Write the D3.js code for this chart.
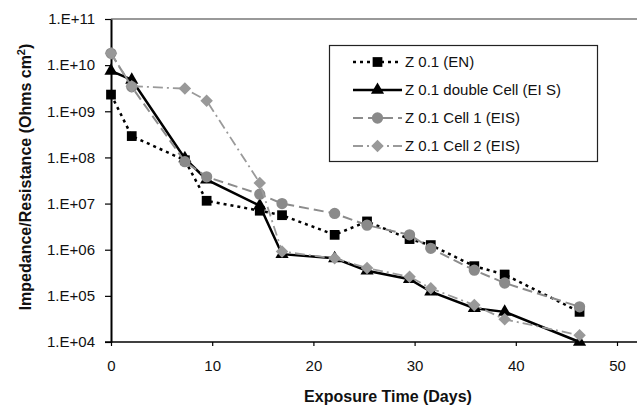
<!DOCTYPE html>
<html>
<head>
<meta charset="utf-8">
<script src="https://cdn.jsdelivr.net/npm/d3@7/dist/d3.min.js"></script>
<style>
    body { margin: 0; background: #fff; }
    svg { display: block; font-family: "Liberation Sans", Arial, sans-serif; }
</style>
</head>
<body>
<div id="chart"></div>
<script>
// 数据：曝露时间（天）和各系列的阻抗值
let days = [0, 2.05, 7.3, 9.45, 14.7, 16.9, 22.1, 25.3, 29.5, 31.6, 35.9, 38.9, 46.3];
let zEN = [2.3e9, 2.9e8, 8.7e7, 1.15e7, 7.0e6, 5.6e6, 2.1e6, 4.1e6, 1.7e6, 1.26e6, 4.4e5, 2.9e5, 4.5e4];
let zDouble = [7.5e9, 4.8e9, 9.5e7, 3.3e7, 9.0e6, 8.0e5, 6.5e5, 3.5e5, 2.3e5, 1.23e5, 5.4e4, 4.5e4, 1.0e4];
let zCell1 = [1.8e10, 3.4e9, 8.1e7, 3.8e7, 1.6e7, 1.0e7, 6.1e6, 3.4e6, 2.1e6, 1.07e6, 3.6e5, 1.9e5, 5.8e4];
let zCell2 = [1.8e10, 3.5e9, 3.1e9, 1.7e9, 2.8e7, 9.1e5, 6.5e5, 4.0e5, 2.6e5, 1.46e5, 6.3e4, 3.1e4, 1.4e4];
let seriesNames = ['Z 0.1 (EN)', 'Z 0.1 double Cell (EI S)', 'Z 0.1 Cell 1 (EIS)', 'Z 0.1 Cell 2 (EIS)'];
let xTicks = [0, 10, 20, 30, 40, 50];
let yTicks = [1e4, 1e5, 1e6, 1e7, 1e8, 1e9, 1e10, 1e11];
let yTickLabels = ['1.E+04', '1.E+05', '1.E+06', '1.E+07', '1.E+08', '1.E+09', '1.E+10', '1.E+11'];

let W = 637, H = 405;
let pLeft = 111, pTop = 19, pBottom = 342;

let svg = d3.select('#chart').append('svg')
    .attr('width', W)
    .attr('height', H);

// 比例尺：x 线性，y 对数
let x = d3.scaleLinear().domain([0, 50]).range([pLeft, 617]);
let y = d3.scaleLog().domain([1e4, 1e11]).range([pBottom, pTop]);

// 各系列的样式
let styles = [
    {values: zEN, color: '#000', width: 2.5, dash: '3,4', marker: 'square', fill: '#000'},
    {values: zDouble, color: '#000', width: 2.5, dash: null, marker: 'triangle', fill: '#000'},
    {values: zCell1, color: '#8c8c8c', width: 2, dash: '10,5', marker: 'circle', fill: '#8a8a8a'},
    {values: zCell2, color: '#9a9a9a', width: 1.8, dash: '10,4,2,4', marker: 'diamond', fill: '#999'}
];
let symbolTypes = {
    square: d3.symbolSquare,
    triangle: d3.symbolTriangle,
    circle: d3.symbolCircle,
    diamond: d3.symbolDiamond2 || d3.symbolDiamond
};
let symbolSizes = {square: 95, triangle: 75, circle: 100, diamond: 100};

// 上边框（灰色）
svg.append('line')
    .attr('x1', pLeft).attr('x2', W)
    .attr('y1', pTop).attr('y2', pTop)
    .attr('stroke', '#999').attr('stroke-width', 2);

// x 轴
let xAxis = svg.append('g')
    .attr('transform', 'translate(0,' + pBottom + ')')
    .call(d3.axisBottom(x).tickValues(xTicks).tickSize(4).tickSizeOuter(0).tickPadding(14));
xAxis.select('.domain').remove();
xAxis.selectAll('line').attr('stroke', '#000').attr('stroke-width', 1.2);
xAxis.selectAll('text').attr('font-size', 15).attr('fill', '#111')
    .attr('font-family', '"Liberation Sans", Arial, sans-serif');
svg.append('line')
    .attr('x1', pLeft - 6).attr('x2', W)
    .attr('y1', pBottom).attr('y2', pBottom)
    .attr('stroke', '#000').attr('stroke-width', 1.6);

// y 轴
let yAxis = svg.append('g')
    .attr('transform', 'translate(' + pLeft + ',0)')
    .call(d3.axisLeft(y).tickValues(yTicks).tickSize(6).tickSizeOuter(0).tickPadding(10)
        .tickFormat(function (d, i) { return yTickLabels[i]; }));
yAxis.select('.domain').attr('stroke', '#000').attr('stroke-width', 2);
yAxis.selectAll('line').attr('stroke', '#000').attr('stroke-width', 1.2);
yAxis.selectAll('text').attr('font-size', 15).attr('fill', '#111')
    .attr('font-family', '"Liberation Sans", Arial, sans-serif');

// 轴标题
svg.append('text')
    .attr('x', 388).attr('y', 402)
    .attr('text-anchor', 'middle')
    .attr('font-size', 16).attr('font-weight', 'bold').attr('fill', '#111')
    .text('Exposure Time (Days)');
let yTitle = svg.append('text')
    .attr('transform', 'translate(31,177) rotate(-90)')
    .attr('text-anchor', 'middle')
    .attr('font-size', 16).attr('font-weight', 'bold').attr('fill', '#111');
yTitle.append('tspan').text('Impedance/Resistance (Ohms cm');
yTitle.append('tspan').attr('dy', -6).attr('font-size', 11).text('2');
yTitle.append('tspan').attr('dy', 6).text(')');

// 折线生成器
let line = d3.line()
    .x(function (d, i) { return x(days[i]); })
    .y(function (d) { return y(d); });

styles.forEach(function (s) {
    let g = svg.append('g');
    let path = g.append('path')
        .attr('d', line(s.values))
        .attr('fill', 'none')
        .attr('stroke', s.color)
        .attr('stroke-width', s.width);
    if (s.dash) path.attr('stroke-dasharray', s.dash);
    g.selectAll('path.mk')
        .data(s.values)
        .enter()
        .append('path')
        .attr('class', 'mk')
        .attr('d', d3.symbol().type(symbolTypes[s.marker]).size(symbolSizes[s.marker]))
        .attr('transform', function (d, i) { return 'translate(' + x(days[i]) + ',' + y(d) + ')'; })
        .attr('fill', s.fill);
});

// 图例
let legend = svg.append('g');
legend.append('rect')
    .attr('x', 329.5).attr('y', 45.5)
    .attr('width', 268).attr('height', 116)
    .attr('fill', '#fff').attr('stroke', '#222').attr('stroke-width', 1.2);
styles.forEach(function (s, i) {
    let ly = 62 + i * 28;
    let l = legend.append('line')
        .attr('x1', 353).attr('x2', 402)
        .attr('y1', ly).attr('y2', ly)
        .attr('stroke', s.color).attr('stroke-width', s.width);
    if (s.dash) l.attr('stroke-dasharray', s.dash);
    legend.append('path')
        .attr('d', d3.symbol().type(symbolTypes[s.marker]).size(symbolSizes[s.marker]))
        .attr('transform', 'translate(377.5,' + ly + ')')
        .attr('fill', s.fill);
    legend.append('text')
        .attr('x', 405).attr('y', ly + 5)
        .attr('font-size', 15).attr('fill', '#111')
        .text(seriesNames[i]);
});
</script>
</body>
</html>
